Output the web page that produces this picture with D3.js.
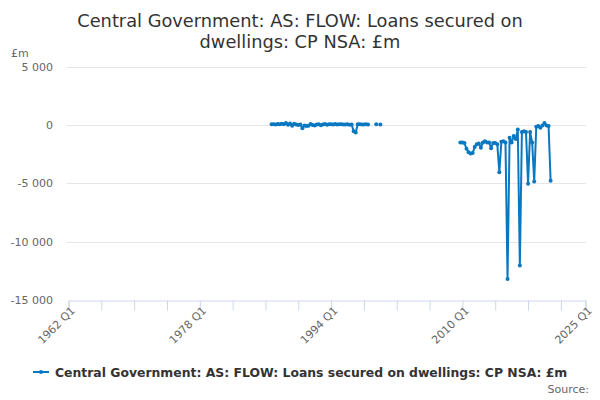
<!DOCTYPE html>
<html>
<head>
<meta charset="utf-8">
<script src="https://cdn.jsdelivr.net/npm/d3@7"></script>
<style>
  body { margin: 0; background: #fff; }
  text { font-family: "DejaVu Sans", sans-serif; }
</style>
</head>
<body>
<div id="chart"></div>
<script>
var titleLines = ["Central Government: AS: FLOW: Loans secured on", "dwellings: CP NSA: £m"];
var seriesName = "Central Government: AS: FLOW: Loans secured on dwellings: CP NSA: £m";

// quarterly values, first one in the start quarter, null = no data
var earlyStart = [1986, 4];
var earlyValues = [
  50,
  60, 40, 80, 50,
  100, 60, 150, 20,
  120, -80, 100, 40,
  -20, 30, -280, -60,
  -100, -80, 70, 0,
  -50, 30, 60, -40,
  40, 80, 20, 50,
  60, 30, 70, 40,
  50, 60, 30, 40,
  50, 20, 30, -550,
  -650, 50, 60, 30,
  40, 50, 40, null,
  null, null, 50, null,
  40
];
var lateStart = [2009, 4];
var lateValues = [
  -1500,
  -1500, -1550, -2050, -2350,
  -2450, -2400, -1900, -1650,
  -1600, -1950, -1500, -1400,
  -1500, -1500, -2000, -1550,
  -1550, -1650, -4050, -1450,
  -1400, -1500, -13200, -1100,
  -1500, -950, -1200, -400,
  -12050, -600, -550, -600,
  -5050, -600, -1500, -4850,
  -150, -100, -250, -50,
  150, -50, -100, -4790
];

var yTicks = [5000, 0, -5000, -10000, -15000];
var xTickYears = [1962, 1966, 1970, 1974, 1978, 1982, 1986, 1990, 1994, 1998, 2002, 2006, 2010, 2014, 2018, 2022, 2025];
var xLabelYears = [1962, 1978, 1994, 2010, 2025];

function toPoints(start, values) {
  return values.map(function (v, i) {
    var q = start[1] - 1 + i;
    var year = start[0] + Math.floor(q / 4);
    return { t: year + (q % 4) / 4, v: v };
  });
}
var early = toPoints(earlyStart, earlyValues);
var late = toPoints(lateStart, lateValues);

var width = 600, height = 400;
var color = "#0a77c1";

var svg = d3.select("#chart").append("svg")
  .attr("width", width).attr("height", height);

var x = d3.scaleLinear().domain([1962, 2025]).range([68.5, 585.5]);
var y = d3.scaleLinear().domain([-15000, 5000]).range([300, 66.5]);

// title
svg.append("text")
  .attr("x", 300).attr("y", 27)
  .attr("text-anchor", "middle")
  .attr("font-size", 17.8).attr("fill", "#333")
  .selectAll("tspan").data(titleLines).enter().append("tspan")
  .attr("x", 300).attr("dy", function (d, i) { return i ? 21 : 0; })
  .text(function (d) { return d; });

// y unit
svg.append("text").attr("x", 11).attr("y", 57)
  .attr("font-size", 11).attr("fill", "#666").text("£m");

// grid + y labels
var fmt = function (v) { return d3.format(",")(v).replace(/,/g, " ").replace("−", "-"); };
svg.append("g").selectAll("line").data(yTicks.filter(function (d) { return d !== -15000; }))
  .enter().append("line")
  .attr("x1", 67).attr("x2", 586)
  .attr("y1", function (d) { return Math.round(y(d)) + 0.5; })
  .attr("y2", function (d) { return Math.round(y(d)) + 0.5; })
  .attr("stroke", "#e6e6e6");
svg.append("g").selectAll("text").data(yTicks).enter().append("text")
  .attr("x", 53).attr("y", function (d) { return y(d) + 4; })
  .attr("text-anchor", "end").attr("font-size", 11).attr("fill", "#666")
  .text(fmt);

// x axis
var xAxis = d3.axisBottom(x)
  .tickValues(xTickYears)
  .tickSize(10)
  .tickFormat(function (d) { return xLabelYears.indexOf(d) >= 0 ? d + " Q1" : ""; });
var gx = svg.append("g").attr("transform", "translate(0,300.5)").call(xAxis);
gx.select(".domain").attr("stroke", "#ccd6eb");
gx.selectAll(".tick line").attr("stroke", "#ccd6eb");
gx.selectAll(".tick text")
  .attr("font-size", 11).attr("fill", "#666")
  .attr("font-family", "DejaVu Sans, sans-serif")
  .attr("text-anchor", "end")
  .attr("transform", "translate(4,8) rotate(-45)")
  .attr("dy", "0.35em").attr("y", 0).attr("x", 0);

// series
var line = d3.line()
  .defined(function (d) { return d.v !== null; })
  .x(function (d) { return x(d.t); })
  .y(function (d) { return y(d.v); });

[early, late].forEach(function (seg) {
  svg.append("path").datum(seg)
    .attr("d", line)
    .attr("fill", "none")
    .attr("stroke", color)
    .attr("stroke-width", 2)
    .attr("stroke-linejoin", "round");
  svg.append("g").selectAll("circle")
    .data(seg.filter(function (d) { return d.v !== null; }))
    .enter().append("circle")
    .attr("cx", function (d) { return x(d.t); })
    .attr("cy", function (d) { return y(d.v); })
    .attr("r", 2)
    .attr("fill", color);
});

// legend
var lg = svg.append("g").attr("transform", "translate(33,372)");
lg.append("line").attr("x1", 0).attr("x2", 16).attr("y1", 0).attr("y2", 0)
  .attr("stroke", color).attr("stroke-width", 2);
lg.append("circle").attr("cx", 8).attr("cy", 0).attr("r", 2).attr("fill", color);
lg.append("text").attr("x", 22).attr("y", 5)
  .attr("font-size", 12.4).attr("font-weight", "bold").attr("fill", "#333")
  .text(seriesName);

svg.append("text").attr("x", 589).attr("y", 393)
  .attr("text-anchor", "end").attr("font-size", 11).attr("fill", "#666")
  .text("Source:");
</script>
</body>
</html>
